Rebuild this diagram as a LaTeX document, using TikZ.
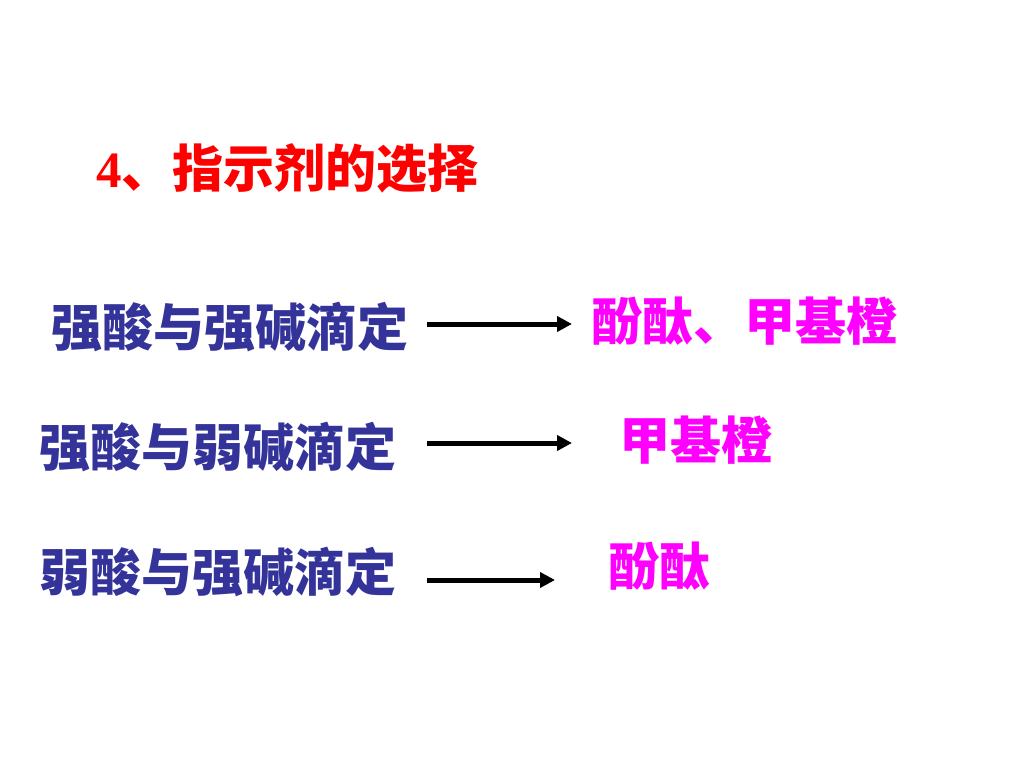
\documentclass[tikz,border=0pt]{standalone}
\usepackage{fontspec}
\setmainfont{Liberation Serif}
\newfontfamily\cjk{Noto Sans CJK SC}
\usetikzlibrary{arrows.meta}
\definecolor{titlered}{RGB}{255,0,0}
\definecolor{acidblue}{RGB}{51,51,153}
\definecolor{indmag}{RGB}{255,0,255}
\tikzset{
  titletext/.style={anchor=west,inner sep=0pt,text=titlered,font=\fontsize{51}{51}\selectfont\bfseries},
  lefttext/.style={anchor=west,inner sep=0pt,text=acidblue,font=\cjk\fontsize{51}{51}\selectfont\bfseries},
  righttext/.style={anchor=west,inner sep=0pt,text=indmag,font=\cjk\fontsize{51}{51}\selectfont\bfseries},
  conn/.style={line width=5pt,-{Triangle[length=15pt,width=15pt]}}
}
\begin{document}
\begin{tikzpicture}[x=1pt,y=-1pt]
\useasboundingbox[fill=white] (0,0) rectangle (1024,768);
\node[titletext] (title) at (96,168) {4{\cjk 、指示剂的选择}};
\node[lefttext] (l1) at (51,327) {强酸与强碱滴定};
\node[lefttext] (l2) at (39,447) {强酸与弱碱滴定};
\node[lefttext] (l3) at (39,572) {弱酸与强碱滴定};
\node[righttext] (r1) at (591,321) {酚酞、甲基橙};
\node[righttext] (r2) at (619,440) {甲基橙};
\node[righttext] (r3) at (608,566) {酚酞};
\coordinate (s1) at (427,324);
\coordinate (e1) at (572,324);
\coordinate (s2) at (427,443);
\coordinate (e2) at (572,443);
\coordinate (s3) at (427,580);
\coordinate (e3) at (555,580);
\draw[conn] (s1) -- (e1);
\draw[conn] (s2) -- (e2);
\draw[conn] (s3) -- (e3);
\end{tikzpicture}
\end{document}
